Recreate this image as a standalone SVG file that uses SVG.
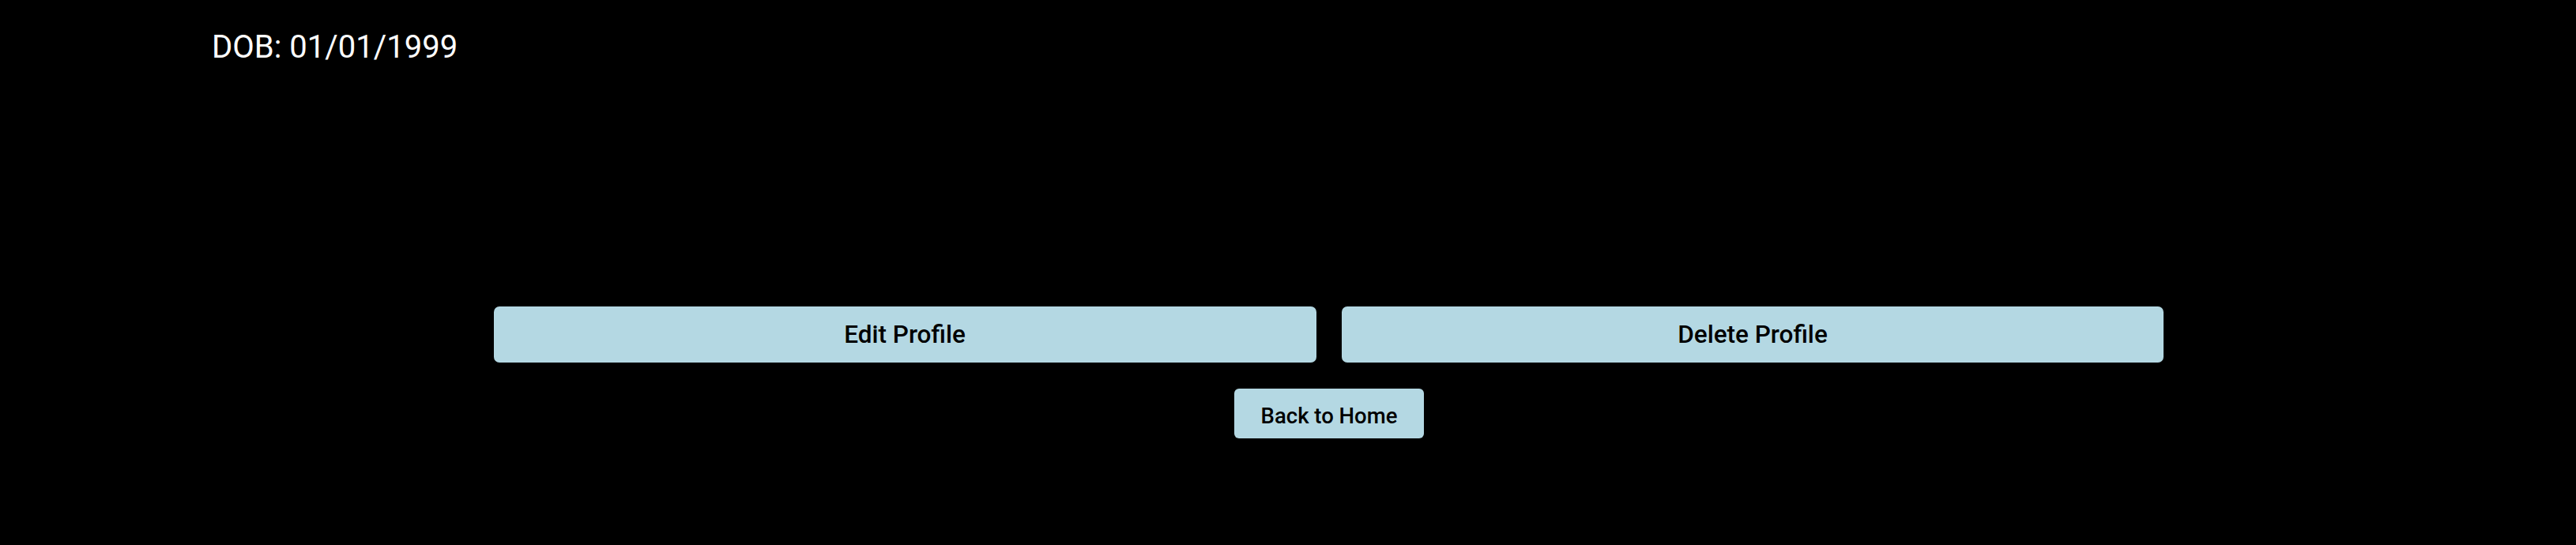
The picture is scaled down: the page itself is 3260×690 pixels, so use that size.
<svg xmlns="http://www.w3.org/2000/svg" width="3260" height="690" viewBox="0 0 3260 690">
<style>
.btn{fill:#b4d8e3}
.bt{font-family:Roboto,"Liberation Sans",sans-serif;font-weight:500;fill:#000;text-anchor:middle}
.info{font-family:Roboto,"Liberation Sans",sans-serif;font-size:40px;fill:#fff}
</style>
<rect x="0" y="0" width="3260" height="690" fill="#000"/>
<g id="dob"><text class="info" x="268" y="73">DOB: 01/01/1999</text></g>
<g id="edit-profile">
<rect class="btn" x="625" y="388" width="1041" height="71" rx="7"/>
<text class="bt" x="1145" y="434" font-size="31.5">Edit Profile</text>
</g>
<g id="delete-profile">
<rect class="btn" x="1698" y="388" width="1040" height="71" rx="7"/>
<text class="bt" x="2218" y="434" font-size="31.5">Delete Profile</text>
</g>
<g id="back-home">
<rect class="btn" x="1562" y="492" width="240" height="63" rx="6"/>
<text class="bt" x="1682" y="536" font-size="27.5">Back to Home</text>
</g>
<g id="connectors"/>
</svg>
